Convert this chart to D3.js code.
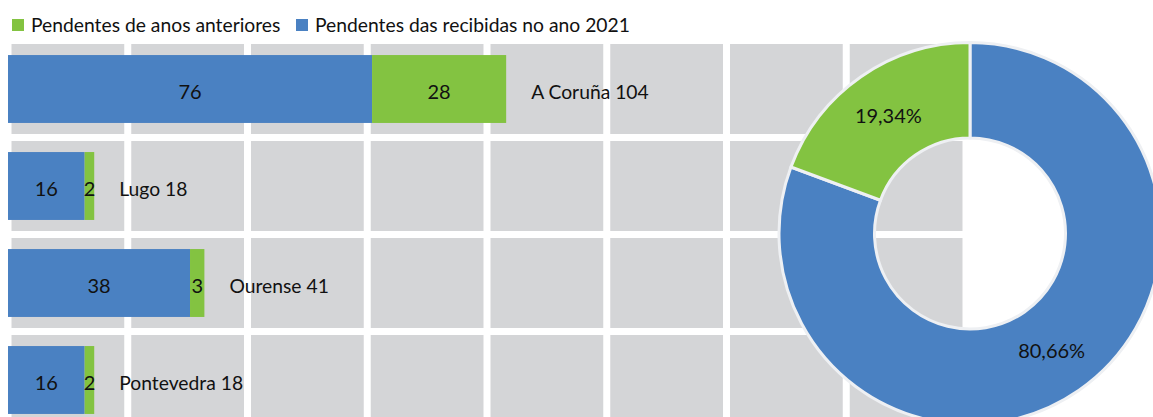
<!DOCTYPE html>
<html lang="gl">
    <head>
        <meta charset="UTF-8" />
        <title>Pendentes por provincia</title>
        <script src="https://cdn.jsdelivr.net/npm/d3@7/dist/d3.min.js"></script>
        <style>
            body { margin: 0; padding: 0; background: #fff; }
            text { font-family: Lato, 'Open Sans', sans-serif; fill: #111; }
        </style>
    </head>
    <body>
        <script>
            // datos
            const provincias = ['A Coruña', 'Lugo', 'Ourense', 'Pontevedra'];
            const recibidas2021 = [76, 16, 38, 16];
            const anteriores = [28, 2, 3, 2];
            const seriesNames = ['Pendentes de anos anteriores', 'Pendentes das recibidas no ano 2021'];
            const donutLabels = ['80,66%', '19,34%'];
            const donutValues = [80.66, 19.34];
            const xTicks = [0, 25, 50, 75, 100, 125, 150, 175, 200];

            const blue = '#4a81c2';
            const green = '#83c341';
            const grey = '#d4d5d7';

            const width = 1153;
            const height = 417;

            const svg = d3.select('body')
                .append('svg')
                .attr('width', width)
                .attr('height', height);

            const x = d3.scaleLinear().domain([0, 200]).range([8, 966]);
            const y = d3.scaleBand()
                .domain(provincias)
                .range([40.5, 428.5])
                .paddingInner(0.3)
                .paddingOuter(0.15);

            // fondo e reixa
            const gridTop = y.range()[0];
            const gridBottom = y.range()[1];
            const step = y.step();
            svg.append('rect')
                .attr('x', x(0))
                .attr('y', gridTop)
                .attr('width', x(200) - x(0))
                .attr('height', gridBottom - gridTop)
                .attr('fill', grey);

            svg.selectAll('.vline')
                .data(xTicks)
                .join('line')
                .attr('x1', d => x(d))
                .attr('x2', d => x(d))
                .attr('y1', gridTop)
                .attr('y2', gridBottom)
                .attr('stroke', '#fff')
                .attr('stroke-width', 7);

            svg.selectAll('.hline')
                .data(d3.range(provincias.length + 1))
                .join('line')
                .attr('x1', x(0))
                .attr('x2', x(200))
                .attr('y1', i => gridTop + i * step)
                .attr('y2', i => gridTop + i * step)
                .attr('stroke', '#fff')
                .attr('stroke-width', 7);

            // barras apiladas
            const rows = provincias.map((p, i) => ({
                name: p,
                a: recibidas2021[i],
                b: anteriores[i]
            }));

            const g = svg.append('g');
            const row = g.selectAll('g.row')
                .data(rows)
                .join('g')
                .attr('class', 'row');

            row.append('rect')
                .attr('x', x(0))
                .attr('y', d => y(d.name))
                .attr('width', d => x(d.a) - x(0))
                .attr('height', y.bandwidth())
                .attr('fill', blue);

            row.append('rect')
                .attr('x', d => x(d.a))
                .attr('y', d => y(d.name))
                .attr('width', d => x(d.a + d.b) - x(d.a))
                .attr('height', y.bandwidth())
                .attr('fill', green);

            const midY = d => y(d.name) + y.bandwidth() / 2 + 3;

            row.append('text')
                .attr('x', d => (x(0) + x(d.a)) / 2)
                .attr('y', midY)
                .attr('dy', '0.35em')
                .attr('text-anchor', 'middle')
                .style('font-size', '20px')
                .text(d => d.a);

            row.append('text')
                .attr('x', d => (x(d.a) + x(d.a + d.b)) / 2)
                .attr('y', midY)
                .attr('dy', '0.35em')
                .attr('text-anchor', 'middle')
                .style('font-size', '20px')
                .text(d => d.b);

            row.append('text')
                .attr('x', d => x(d.a + d.b) + 25)
                .attr('y', midY)
                .attr('dy', '0.35em')
                .style('font-size', '19.3px')
                .text(d => d.name + ' ' + (d.a + d.b));

            // lenda
            const legend = svg.append('g');
            const legendX = [12, 296];
            const legendColors = [green, blue];
            seriesNames.forEach((name, i) => {
                legend.append('rect')
                    .attr('x', legendX[i])
                    .attr('y', 19)
                    .attr('width', 12)
                    .attr('height', 12)
                    .attr('fill', legendColors[i]);
                legend.append('text')
                    .attr('x', legendX[i] + 19)
                    .attr('y', 31.5)
                    .style('font-size', '19.3px')
                    .text(name);
            });

            // rosco
            const pie = d3.pie().sort(null).value(d => d);
            const arc = d3.arc().innerRadius(95.5).outerRadius(191);
            const labelArc = d3.arc().innerRadius(143).outerRadius(143);
            const donut = svg.append('g').attr('transform', 'translate(970,233.5)');
            const arcs = pie(donutValues);

            donut.selectAll('path')
                .data(arcs)
                .join('path')
                .attr('d', arc)
                .attr('fill', (d, i) => (i === 0 ? blue : green))
                .attr('stroke', '#eef0f3')
                .attr('stroke-width', 3);

            donut.selectAll('text')
                .data(arcs)
                .join('text')
                .attr('transform', d => `translate(${labelArc.centroid(d)})`)
                .attr('dy', '0.35em')
                .attr('text-anchor', 'middle')
                .style('font-size', '20px')
                .text((d, i) => donutLabels[i]);
        </script>
    </body>
</html>
